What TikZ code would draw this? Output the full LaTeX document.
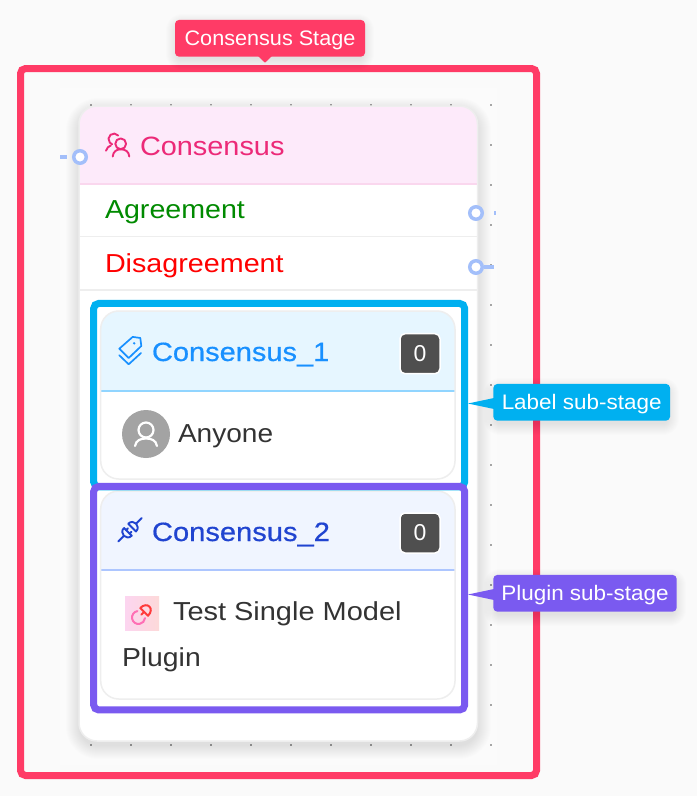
\documentclass[tikz,border=0pt]{standalone}
\usepackage{fontspec}
\setmainfont{Liberation Sans}
\newfontfamily\tipfonta[FakeStretch=1.03]{Liberation Sans}
\newfontfamily\tipfontb[FakeStretch=1.07]{Liberation Sans}
\newfontfamily\medfont[FakeBold=0.5]{Liberation Sans}
\usetikzlibrary{calc}
\definecolor{pagebg}{HTML}{FAFAFA}
\definecolor{canvasbg}{HTML}{FBFBFB}
\definecolor{stagered}{HTML}{FF3B66}
\definecolor{labelblue}{HTML}{00B0F0}
\definecolor{pluginviolet}{HTML}{7A5AF0}
\definecolor{portblue}{HTML}{A3BFFA}
\definecolor{cardline}{HTML}{EEEEEE}
\definecolor{headpink}{HTML}{FDEAFA}
\definecolor{linepink}{HTML}{FAD7EE}
\definecolor{titlepink}{HTML}{EC2A78}
\definecolor{headblue}{HTML}{E6F6FF}
\definecolor{lineblue}{HTML}{91D5FF}
\definecolor{titleblue}{HTML}{1890FF}
\definecolor{headgeek}{HTML}{F0F5FF}
\definecolor{linegeek}{HTML}{ADC6FF}
\definecolor{titlegeek}{HTML}{2044D0}
\definecolor{okgreen}{HTML}{008A00}
\definecolor{badgegray}{HTML}{4F4F4F}
\definecolor{bodytext}{HTML}{333333}
\definecolor{avatargray}{HTML}{A3A3A3}
\definecolor{iconbga}{HTML}{FCD5F0}
\definecolor{iconbgb}{HTML}{FDD9D9}
\definecolor{linkred}{HTML}{FF3B3B}
\definecolor{linkpink}{HTML}{FF6FB5}
\newcommand{\softshadow}[6]{%
  \foreach \i in {1,...,#6} {
    \fill[black,opacity=0.008,rounded corners={#5+\i*1pt}]
      ({#1-\i},{#2-\i}) rectangle ({#3+\i},{#4+\i});
  }}
\tikzset{
  x=1pt,y=-1pt,
  frame/.style={draw=#1,line width=7pt,rounded corners=5pt,inner sep=0pt},
  innercard/.style={draw=cardline,line width=1.5pt,rounded corners=18pt},
  port/.style={circle,draw=portblue,fill=white,line width=3.5pt,minimum size=12.5pt,inner sep=0pt},
  stub/.style={portblue,line width=4pt},
  tw/.style={xscale=#1,transform shape},
  txt/.style={anchor=base west,inner sep=0pt,outer sep=0pt},
  tipbox/.style={fill=#1,rounded corners=4pt,inner sep=0pt,text=white,text height=18pt,text depth=3.2pt,minimum height=36.7pt},
  badge/.style={fill=badgegray,draw=white,line width=1.5pt,rounded corners=5pt,minimum width=40pt,minimum height=40pt,inner sep=0pt,text=white,font=\fontsize{23pt}{28pt}\selectfont},
  title/.style={font=\fontsize{26.5pt}{30pt}\selectfont},
  medtitle/.style={font=\medfont\fontsize{26.5pt}{30pt}\selectfont},
  bodyt/.style={font=\fontsize{26pt}{30pt}\selectfont},
  icon/.style={line width=1.9pt,line cap=round,line join=round},
  diag/.style={x={(0.7071pt,0.7071pt)},y={(0.7071pt,-0.7071pt)}},
}
\begin{document}
\begin{tikzpicture}
\useasboundingbox (0,0) rectangle (697,796);
\fill[pagebg] (0,0) rectangle (697,796);
\fill[canvasbg] (60,88) rectangle (497,765);
% dotted grid
\foreach \gx in {91,131,...,491} \foreach \gy in {105,145,...,745}
  \fill[black!35] ({\gx-1},{\gy-1}) rectangle ({\gx+1},{\gy+1});

% stage frame
\node[frame=stagered,minimum width=516pt,minimum height=707pt] (stage) at (278.5,422) {};

% main card
\softshadow{80}{112}{477}{745}{18}{14}
\fill[white,rounded corners=18pt] (79,106) rectangle (477.5,741);
\begin{scope}
\clip[rounded corners=18pt] (79,106) rectangle (477.5,741);
\fill[headpink] (79,106) rectangle (477.5,183.5);
\fill[linepink] (79,183) rectangle (477.5,185);
\fill[cardline] (79,235.5) rectangle (477.5,237);
\fill[cardline] (79,289) rectangle (477.5,290.5);
\end{scope}
\draw[cardline,line width=1.5pt,rounded corners=18pt] (79,106) rectangle (477.5,741);

\node[txt,title,text=titlepink,tw=1.09] (consensus) at (140,155.5) {Consensus};
\node[txt,bodyt,text=okgreen,tw=1.1] (agree) at (105,218.5) {Agreement};
\node[txt,bodyt,text=red,tw=1.104] (disagree) at (105,272.5) {Disagreement};

% consensus icon
\begin{scope}[titlepink,icon]
\draw (120.7,143.8) circle (5.4pt);
\draw (112.7,156.5) .. controls (113.2,151.5) and (116.5,149.3) .. (120.9,149.3) .. controls (125.5,149.3) and (128.8,151.5) .. (129.3,156.5);
\draw (118.2,135.5) arc[start angle=40,end angle=250,radius=5.5pt];
\draw (106,150.7) .. controls (106.8,148) and (108.6,146.3) .. (111,145.3);
\end{scope}

% ports and stubs
\node[port] (portin) at (80,157) {};
\node[port] (portyes) at (476,213) {};
\node[port] (portno) at (476,267) {};
\coordinate (stubina) at (60,157);
\coordinate (stubinb) at (67,157);
\coordinate (stubyesa) at (494,213);
\coordinate (stubyesb) at (496,213);
\coordinate (stubnoend) at (494,267);
\draw[stub] (stubina) -- (stubinb);
\draw[stub] (stubyesa) -- (stubyesb);
\draw[stub] (portno.east) -- (stubnoend);

% label sub-stage card
\fill[white,rounded corners=18pt] (100.7,311) rectangle (455,479);
\begin{scope}
\clip[rounded corners=18pt] (100.7,311) rectangle (455,479);
\fill[headblue] (100.7,311) rectangle (455,390);
\fill[lineblue] (100.7,389.5) rectangle (455,391.5);
\end{scope}
\draw[innercard] (100.7,311) rectangle (455,479);
\node[txt,medtitle,text=titleblue,tw=1.094] (c1) at (152,361) {Consensus\_1};
\node[badge] (badgea) at (420,353.7) {0};
\begin{scope}[titleblue,icon,line width=1.7pt]
\draw (119.3,348.7) -- (132.7,336.9) -- (140.3,338) -- (141.3,346) -- (128.7,358) -- cycle;
\draw (119.3,355.3) -- (128.7,364.3) -- (141,353);
\fill (134.2,343.3) circle (1.3pt);
\end{scope}
\fill[avatargray] (146,434) circle (24pt);
\draw[white,line width=2.2pt] (146,430) circle (7.5pt);
\draw[white,line width=2.2pt,line cap=round] (135,446) .. controls (136,440) and (141,438.5) .. (146,438.5) .. controls (151,438.5) and (156,440) .. (157,446);
\node[txt,bodyt,text=bodytext,tw=1.08] (anyone) at (178,442) {Anyone};

% plugin sub-stage card
\fill[white,rounded corners=18pt] (100.7,491) rectangle (455,699);
\begin{scope}
\clip[rounded corners=18pt] (100.7,491) rectangle (455,699);
\fill[headgeek] (100.7,491) rectangle (455,569);
\fill[linegeek] (100.7,569) rectangle (455,571);
\end{scope}
\draw[innercard] (100.7,491) rectangle (455,699);
\node[txt,medtitle,text=titlegeek,tw=1.098] (c2) at (152,541) {Consensus\_2};
\node[badge] (badgeb) at (420,533) {0};
\begin{scope}[shift={(130,529.7)},diag,titlegeek,icon,line width=1.9pt]
\draw (-3,-5.5) -- (-3,5.5) .. controls (-10.5,5.5) and (-10.5,-5.5) .. (-3,-5.5);
\draw (3,-5.5) -- (3,5.5) .. controls (10.5,5.5) and (10.5,-5.5) .. (3,-5.5);
\draw (-8.5,0) -- (-16.5,0);
\draw (8.5,0) -- (16.5,0);
\draw (-3,-2.5) -- (-0.5,-2.5);
\draw (-3,2.5) -- (-0.5,2.5);
\end{scope}
\shade[left color=iconbga,right color=iconbgb] (125,596.7) rectangle (159,630.7);
\begin{scope}[shift={(142,614)},diag,line width=2pt,line cap=round,line join=round]
\draw[linkred] (3,-5.5) -- (3,5.5) .. controls (13,5.5) and (13,-5.5) .. (3,-5.5);
\draw[linkred] (3,0) -- (-1,0);
\end{scope}
\draw[linkpink,line width=2pt,line cap=round] (137.4,611.1) arc[start angle=100,end angle=355,radius=6.5pt];
\node[txt,bodyt,text=bodytext,tw=1.114] (testline) at (173,620) {Test Single Model};
\node[txt,bodyt,text=bodytext,tw=1.09] (pluginline) at (122,666) {Plugin};

% sub-stage frames
\node[frame=labelblue,minimum width=371pt,minimum height=183.5pt] (labelframe) at (279.2,395.2) {};
\node[frame=pluginviolet,minimum width=371pt,minimum height=223.5pt] (pluginframe) at (279.2,598.2) {};

% tooltips
\softshadow{178}{26}{362}{58}{4}{12}
\softshadow{496}{390}{667}{423}{4}{12}
\softshadow{496}{581}{674}{614}{4}{12}
\fill[stagered] (258,56) -- (265,62.7) -- (272,56) -- cycle;
\node[tipbox=stagered,minimum width=190pt,font=\tipfonta\fontsize{21pt}{24pt}\selectfont] (stagetip) at (270,38.3) {Consensus Stage};
\fill[labelblue] (494,398) -- (468,403.5) -- (494,409) -- cycle;
\node[tipbox=labelblue,minimum width=176.7pt,font=\tipfontb\fontsize{21pt}{24pt}\selectfont] (labeltip) at (581.7,402.3) {Label sub-stage};
\fill[pluginviolet] (494,589) -- (468,594.5) -- (494,600) -- cycle;
\node[tipbox=pluginviolet,minimum width=183.4pt,font=\tipfontb\fontsize{21pt}{24pt}\selectfont] (plugintip) at (585,593.3) {Plugin sub-stage};
\end{tikzpicture}
\end{document}
